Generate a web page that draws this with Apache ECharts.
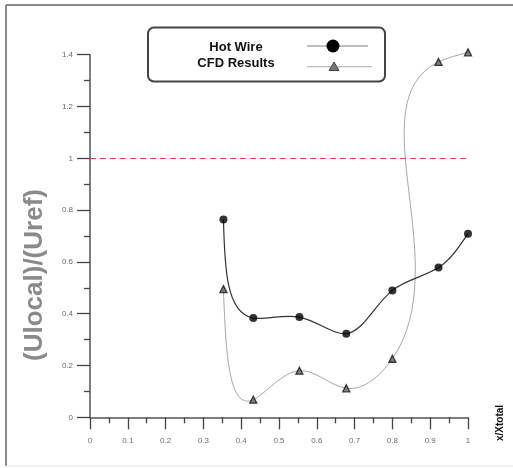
<!DOCTYPE html>
<html>
<head>
<meta charset="utf-8">
<script src="https://cdn.jsdelivr.net/npm/echarts@6/dist/echarts.min.js"></script>
<style>
  html, body { margin: 0; padding: 0; background: #fff; }
  #chart { width: 513px; height: 468px; }
</style>
</head>
<body>
<div id="chart"></div>
<script>
// Measurement stations along the duct (x / Xtotal)
const positions = [0.353, 0.432, 0.554, 0.678, 0.800, 0.922, 1.000];
// Normalised velocity (Ulocal / Uref)
const hotWire    = [0.764, 0.383, 0.387, 0.323, 0.490, 0.578, 0.709];
const cfdResults = [0.495, 0.068, 0.180, 0.112, 0.226, 1.372, 1.409];
// Reference level
const refLevel = 1;
// Axis ranges and steps
const xRange = [0, 1];
const xStep = 0.1;
const yRange = [0, 1.4];
const yStep = 0.2;
const seriesNames = ['Hot Wire', 'CFD Results'];

// Second derivatives of a natural cubic spline through vals at parameters t
function naturalSecondDerivs(vals, t) {
  const n = vals.length;
  const M = new Array(n).fill(0);
  if (n < 3) return M;
  const a = [], b = [], c = [], d = [];
  for (let i = 1; i < n - 1; i++) {
    const h0 = t[i] - t[i - 1], h1 = t[i + 1] - t[i];
    a.push(h0); b.push(2 * (h0 + h1)); c.push(h1);
    d.push(6 * ((vals[i + 1] - vals[i]) / h1 - (vals[i] - vals[i - 1]) / h0));
  }
  const m = b.length;
  for (let i = 1; i < m; i++) {
    const w = a[i] / b[i - 1];
    b[i] -= w * c[i - 1];
    d[i] -= w * d[i - 1];
  }
  const sol = new Array(m);
  sol[m - 1] = d[m - 1] / b[m - 1];
  for (let i = m - 2; i >= 0; i--) sol[i] = (d[i] - c[i] * sol[i + 1]) / b[i];
  for (let i = 0; i < m; i++) M[i + 1] = sol[i];
  return M;
}

// Parametric (chord-length) spline through pixel points, as cubic Bezier pieces
function splineSegments(pts) {
  const t = [0];
  for (let i = 1; i < pts.length; i++) {
    t.push(t[i - 1] + Math.hypot(pts[i][0] - pts[i - 1][0], pts[i][1] - pts[i - 1][1]));
  }
  const xs = pts.map(p => p[0]), ys = pts.map(p => p[1]);
  const Mx = naturalSecondDerivs(xs, t), My = naturalSecondDerivs(ys, t);
  const segs = [];
  for (let i = 0; i < pts.length - 1; i++) {
    const h = t[i + 1] - t[i];
    const d0x = (xs[i + 1] - xs[i]) / h - h * (2 * Mx[i] + Mx[i + 1]) / 6;
    const d0y = (ys[i + 1] - ys[i]) / h - h * (2 * My[i] + My[i + 1]) / 6;
    const d1x = (xs[i + 1] - xs[i]) / h + h * (Mx[i] + 2 * Mx[i + 1]) / 6;
    const d1y = (ys[i + 1] - ys[i]) / h + h * (My[i] + 2 * My[i + 1]) / 6;
    segs.push({
      x1: xs[i], y1: ys[i], x2: xs[i + 1], y2: ys[i + 1],
      cpx1: xs[i] + d0x * h / 3, cpy1: ys[i] + d0y * h / 3,
      cpx2: xs[i + 1] - d1x * h / 3, cpy2: ys[i + 1] - d1y * h / 3
    });
  }
  return segs;
}

function curveSeries(values, color, width) {
  return {
    type: 'custom',
    data: positions.map((x, i) => [x, values[i]]),
    clip: false,
    silent: true,
    z: 2,
    renderItem: function (params, api) {
      if (params.dataIndex !== 0) return null;
      const pts = positions.map((x, i) => api.coord([x, values[i]]));
      return {
        type: 'group',
        children: splineSegments(pts).map(s => ({
          type: 'bezierCurve',
          shape: s,
          style: { fill: null, stroke: color, lineWidth: width }
        }))
      };
    }
  };
}

const chart = echarts.init(document.getElementById('chart'), null, { renderer: 'canvas' });

const axisLabelStyle = { color: '#6a6a6a', fontSize: 8, fontFamily: 'Liberation Sans, Arial, sans-serif' };
const legendFont = 'bold 13px "Liberation Sans", Arial, sans-serif';

chart.setOption({
  animation: false,
  backgroundColor: '#fff',
  grid: { left: 90, right: 45, top: 54.7, bottom: 50.7, containLabel: false },
  xAxis: {
    type: 'value', min: xRange[0], max: xRange[1], interval: xStep,
    axisLine: { show: true, onZero: false, lineStyle: { color: '#555', width: 1.5 } },
    axisTick: { show: true, length: 12, lineStyle: { color: '#444', width: 1.3 } },
    minorTick: { show: true, splitNumber: 2, length: 6, lineStyle: { color: '#444', width: 1.3 } },
    splitLine: { show: false },
    axisLabel: Object.assign({ margin: 19 }, axisLabelStyle)
  },
  yAxis: {
    type: 'value', min: yRange[0], max: yRange[1], interval: yStep,
    axisLine: { show: true, onZero: false, lineStyle: { color: '#555', width: 1.5 } },
    axisTick: { show: true, length: 13, lineStyle: { color: '#444', width: 1.3 } },
    minorTick: { show: true, splitNumber: 2, length: 6, lineStyle: { color: '#444', width: 1.3 } },
    splitLine: { show: false },
    axisLabel: Object.assign({ margin: 17 }, axisLabelStyle)
  },
  series: [
    curveSeries(cfdResults, '#a8a8a8', 1),
    curveSeries(hotWire, '#333', 1.2),
    {
      name: seriesNames[0],
      type: 'scatter',
      data: positions.map((x, i) => [x, hotWire[i]]),
      symbol: 'circle', symbolSize: 8, clip: false, z: 4,
      itemStyle: { color: '#000' },
      markLine: {
        silent: true, symbol: 'none', label: { show: false },
        lineStyle: { color: '#ff3b3b', type: [6, 4], width: 1.2 },
        data: [{ yAxis: refLevel }]
      }
    },
    {
      name: seriesNames[1],
      type: 'scatter',
      data: positions.map((x, i) => [x, cfdResults[i]]),
      symbol: 'triangle', symbolSize: 7, clip: false, z: 4,
      itemStyle: { color: '#666', borderColor: '#111', borderWidth: 1.3 }
    }
  ],
  graphic: [
    // outer frame
    { type: 'line', shape: { x1: 6, y1: 5, x2: 513, y2: 5 }, style: { stroke: '#8a8a8a', lineWidth: 2 } },
    { type: 'line', shape: { x1: 6, y1: 5, x2: 6, y2: 466 }, style: { stroke: '#8a8a8a', lineWidth: 2 } },
    { type: 'line', shape: { x1: 6, y1: 466, x2: 513, y2: 466 }, style: { stroke: '#e2e2e2', lineWidth: 1 } },
    // legend box
    { type: 'rect', shape: { x: 148, y: 27.5, width: 237, height: 54, r: 6 },
      style: { fill: '#fff', stroke: '#444', lineWidth: 2 }, z: 10 },
    { type: 'text', x: 236, y: 47.5, z: 11,
      style: { text: seriesNames[0], fill: '#111', font: legendFont, align: 'center', verticalAlign: 'middle' } },
    { type: 'text', x: 236, y: 63.5, z: 11,
      style: { text: seriesNames[1], fill: '#111', font: legendFont, align: 'center', verticalAlign: 'middle' } },
    { type: 'line', shape: { x1: 307, y1: 46, x2: 368, y2: 46 }, style: { stroke: '#aaa', lineWidth: 1.3 }, z: 11 },
    { type: 'circle', shape: { cx: 333, cy: 46, r: 6.5 }, style: { fill: '#000' }, z: 12 },
    { type: 'line', shape: { x1: 307, y1: 66.7, x2: 372, y2: 66.7 }, style: { stroke: '#bbb', lineWidth: 1.3 }, z: 11 },
    { type: 'polygon', shape: { points: [[334, 62], [329, 70.5], [339, 70.5]] }, style: { fill: '#777', stroke: '#444', lineWidth: 1 }, z: 12 },
    // axis titles
    { type: 'text', x: 35, y: 275, rotation: Math.PI / 2, z: 5,
      style: { text: '(Ulocal)/(Uref)', fill: '#8a8a8a', font: 'bold 26px "Liberation Sans", Arial, sans-serif', align: 'center', verticalAlign: 'middle' } },
    { type: 'text', x: 500, y: 423, rotation: Math.PI / 2, z: 5,
      style: { text: 'x/Xtotal', fill: '#111', font: 'bold 10px "Liberation Sans", Arial, sans-serif', align: 'center', verticalAlign: 'middle' } }
  ]
});
</script>
</body>
</html>
